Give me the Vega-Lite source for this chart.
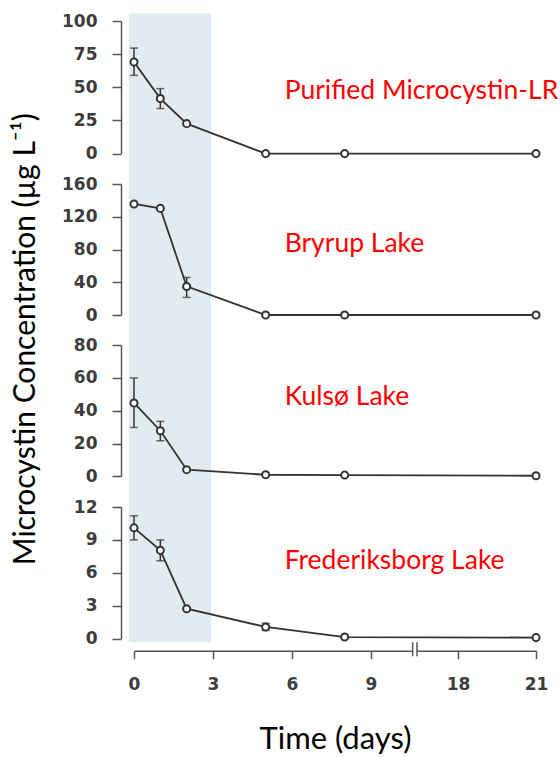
{
  "$schema": "https://vega.github.io/schema/vega-lite/v6.json",
  "padding": {"left": 9, "top": 12, "right": 0, "bottom": 0},
  "autosize": {"type": "pad"},
  "bounds": "flush",
  "spacing": 30,
  "config": {
    "view": {"stroke": null},
    "axis": {
      "grid": false,
      "domainColor": "#555555",
      "tickColor": "#555555",
      "domainWidth": 1.5,
      "tickWidth": 1.5,
      "labelFont": "DejaVu Sans",
      "labelFontWeight": "bold",
      "labelFontSize": 17,
      "labelColor": "#3c3c3c",
      "labelFlush": false,
      "labelOverlap": false,
      "titleFont": "Lato",
      "titleFontWeight": "normal",
      "titleFontSize": 30,
      "titleColor": "#000000"
    }
  },
  "datasets": {
    "series": [
      {"panel": "Purified Microcystin-LR", "day": 0, "conc": 69.1, "lo": 59.0, "hi": 79.6},
      {"panel": "Purified Microcystin-LR", "day": 1, "conc": 41.5, "lo": 34.0, "hi": 49.0},
      {"panel": "Purified Microcystin-LR", "day": 2, "conc": 22.6, "lo": null, "hi": null},
      {"panel": "Purified Microcystin-LR", "day": 5, "conc": 0, "lo": null, "hi": null},
      {"panel": "Purified Microcystin-LR", "day": 8, "conc": 0, "lo": null, "hi": null},
      {"panel": "Purified Microcystin-LR", "day": 21, "conc": 0, "lo": null, "hi": null},
      {"panel": "Bryrup Lake", "day": 0, "conc": 135.6, "lo": null, "hi": null},
      {"panel": "Bryrup Lake", "day": 1, "conc": 130.2, "lo": null, "hi": null},
      {"panel": "Bryrup Lake", "day": 2, "conc": 34.9, "lo": 21.5, "hi": 45.9},
      {"panel": "Bryrup Lake", "day": 5, "conc": 0, "lo": null, "hi": null},
      {"panel": "Bryrup Lake", "day": 8, "conc": 0, "lo": null, "hi": null},
      {"panel": "Bryrup Lake", "day": 21, "conc": 0, "lo": null, "hi": null},
      {"panel": "Kulsø Lake", "day": 0, "conc": 44.7, "lo": 29.8, "hi": 59.9},
      {"panel": "Kulsø Lake", "day": 1, "conc": 27.8, "lo": 21.7, "hi": 33.5},
      {"panel": "Kulsø Lake", "day": 2, "conc": 4.1, "lo": null, "hi": null},
      {"panel": "Kulsø Lake", "day": 5, "conc": 1.0, "lo": null, "hi": null},
      {"panel": "Kulsø Lake", "day": 8, "conc": 0.8, "lo": null, "hi": null},
      {"panel": "Kulsø Lake", "day": 21, "conc": 0.4, "lo": null, "hi": null},
      {"panel": "Frederiksborg Lake", "day": 0, "conc": 10.1, "lo": 9.0, "hi": 11.2},
      {"panel": "Frederiksborg Lake", "day": 1, "conc": 8.05, "lo": 7.1, "hi": 9.0},
      {"panel": "Frederiksborg Lake", "day": 2, "conc": 2.73, "lo": null, "hi": null},
      {"panel": "Frederiksborg Lake", "day": 5, "conc": 1.07, "lo": 0.75, "hi": 1.4},
      {"panel": "Frederiksborg Lake", "day": 8, "conc": 0.15, "lo": null, "hi": null},
      {"panel": "Frederiksborg Lake", "day": 21, "conc": 0.1, "lo": null, "hi": null}
    ]
  },
  "vconcat": [
    {
      "width": 402, "height": 132.6,
      "layer": [
        {
          "data": {"values": [{}]},
          "mark": {"type": "rect", "color": "#e2ebef"},
          "encoding": {
            "x": {"datum": -0.2, "type": "quantitative", "scale": {"domain": [0, 9, 18, 21], "range": [0, 237, 324, 402], "nice": false, "zero": false}, "axis": null},
            "x2": {"datum": 2.93},
            "y": {"datum": 105.6, "type": "quantitative", "scale": {"domain": [0, 100], "nice": false, "zero": false}, "axis": {"values": [0, 25, 50, 75, 100], "title": null, "offset": 13, "tickSize": 9, "labelPadding": 15}},
            "y2": {"datum": -12.1}
          }
        },
        {
          "data": {"name": "series"},
          "transform": [{"filter": "datum.panel === 'Purified Microcystin-LR'"}],
          "mark": {"type": "line", "color": "#333333", "strokeWidth": 1.8},
          "encoding": {
            "x": {"field": "day", "type": "quantitative", "scale": {"domain": [0, 9, 18, 21], "range": [0, 237, 324, 402], "nice": false, "zero": false}, "axis": null},
            "y": {"field": "conc", "type": "quantitative", "scale": {"domain": [0, 100], "nice": false, "zero": false}, "axis": {"values": [0, 25, 50, 75, 100], "title": null, "offset": 13, "tickSize": 9, "labelPadding": 15}}
          }
        },
        {
          "data": {"name": "series"},
          "transform": [{"filter": "datum.panel === 'Purified Microcystin-LR' && datum.lo != null"}],
          "layer": [
            {"mark": {"type": "rule", "color": "#333333", "strokeWidth": 1.5},
             "encoding": {"y2": {"field": "hi"}}},
            {"mark": {"type": "tick", "orient": "horizontal", "color": "#333333", "size": 8, "thickness": 1.5}},
            {"mark": {"type": "tick", "orient": "horizontal", "color": "#333333", "size": 8, "thickness": 1.5},
             "encoding": {"y": {"field": "hi", "type": "quantitative", "scale": {"domain": [0, 100], "nice": false, "zero": false}, "axis": {"values": [0, 25, 50, 75, 100], "title": null, "offset": 13, "tickSize": 9, "labelPadding": 15}}}}
          ],
          "encoding": {
            "x": {"field": "day", "type": "quantitative", "scale": {"domain": [0, 9, 18, 21], "range": [0, 237, 324, 402], "nice": false, "zero": false}, "axis": null},
            "y": {"field": "lo", "type": "quantitative", "scale": {"domain": [0, 100], "nice": false, "zero": false}, "axis": {"values": [0, 25, 50, 75, 100], "title": null, "offset": 13, "tickSize": 9, "labelPadding": 15}}
          }
        },
        {
          "data": {"name": "series"},
          "transform": [{"filter": "datum.panel === 'Purified Microcystin-LR'"}],
          "mark": {"type": "circle", "fill": "#ffffff", "stroke": "#333333", "strokeWidth": 2, "size": 50, "opacity": 1},
          "encoding": {
            "x": {"field": "day", "type": "quantitative", "scale": {"domain": [0, 9, 18, 21], "range": [0, 237, 324, 402], "nice": false, "zero": false}, "axis": null},
            "y": {"field": "conc", "type": "quantitative", "scale": {"domain": [0, 100], "nice": false, "zero": false}, "axis": {"values": [0, 25, 50, 75, 100], "title": null, "offset": 13, "tickSize": 9, "labelPadding": 15}}
          }
        },
        {
          "data": {"values": [{"panel": "Purified Microcystin-LR"}]},
          "mark": {"type": "text", "align": "left", "baseline": "middle", "font": "Lato", "fontSize": 26.5, "color": "#ff0000"},
          "encoding": {
            "x": {"datum": 5.72, "type": "quantitative", "scale": {"domain": [0, 9, 18, 21], "range": [0, 237, 324, 402], "nice": false, "zero": false}, "axis": null},
            "y": {"datum": 47.3, "type": "quantitative", "scale": {"domain": [0, 100], "nice": false, "zero": false}, "axis": {"values": [0, 25, 50, 75, 100], "title": null, "offset": 13, "tickSize": 9, "labelPadding": 15}},
            "text": {"field": "panel"}
          }
        }
      ]
    },
    {
      "width": 402, "height": 131,
      "layer": [
        {
          "data": {"values": [{}]},
          "mark": {"type": "rect", "color": "#e2ebef"},
          "encoding": {
            "x": {"datum": -0.2, "type": "quantitative", "scale": {"domain": [0, 9, 18, 21], "range": [0, 237, 324, 402], "nice": false, "zero": false}, "axis": null},
            "x2": {"datum": 2.93},
            "y": {"datum": 179.5, "type": "quantitative", "scale": {"domain": [0, 160], "nice": false, "zero": false}, "axis": {"values": [0, 40, 80, 120, 160], "title": null, "offset": 13, "tickSize": 9, "labelPadding": 15}},
            "y2": {"datum": -19.5}
          }
        },
        {
          "data": {"name": "series"},
          "transform": [{"filter": "datum.panel === 'Bryrup Lake'"}],
          "mark": {"type": "line", "color": "#333333", "strokeWidth": 1.8},
          "encoding": {
            "x": {"field": "day", "type": "quantitative", "scale": {"domain": [0, 9, 18, 21], "range": [0, 237, 324, 402], "nice": false, "zero": false}, "axis": null},
            "y": {"field": "conc", "type": "quantitative", "scale": {"domain": [0, 160], "nice": false, "zero": false}, "axis": {"values": [0, 40, 80, 120, 160], "title": null, "offset": 13, "tickSize": 9, "labelPadding": 15}}
          }
        },
        {
          "data": {"name": "series"},
          "transform": [{"filter": "datum.panel === 'Bryrup Lake' && datum.lo != null"}],
          "layer": [
            {"mark": {"type": "rule", "color": "#333333", "strokeWidth": 1.5},
             "encoding": {"y2": {"field": "hi"}}},
            {"mark": {"type": "tick", "orient": "horizontal", "color": "#333333", "size": 8, "thickness": 1.5}},
            {"mark": {"type": "tick", "orient": "horizontal", "color": "#333333", "size": 8, "thickness": 1.5},
             "encoding": {"y": {"field": "hi", "type": "quantitative", "scale": {"domain": [0, 160], "nice": false, "zero": false}, "axis": {"values": [0, 40, 80, 120, 160], "title": null, "offset": 13, "tickSize": 9, "labelPadding": 15}}}}
          ],
          "encoding": {
            "x": {"field": "day", "type": "quantitative", "scale": {"domain": [0, 9, 18, 21], "range": [0, 237, 324, 402], "nice": false, "zero": false}, "axis": null},
            "y": {"field": "lo", "type": "quantitative", "scale": {"domain": [0, 160], "nice": false, "zero": false}, "axis": {"values": [0, 40, 80, 120, 160], "title": null, "offset": 13, "tickSize": 9, "labelPadding": 15}}
          }
        },
        {
          "data": {"name": "series"},
          "transform": [{"filter": "datum.panel === 'Bryrup Lake'"}],
          "mark": {"type": "circle", "fill": "#ffffff", "stroke": "#333333", "strokeWidth": 2, "size": 50, "opacity": 1},
          "encoding": {
            "x": {"field": "day", "type": "quantitative", "scale": {"domain": [0, 9, 18, 21], "range": [0, 237, 324, 402], "nice": false, "zero": false}, "axis": null},
            "y": {"field": "conc", "type": "quantitative", "scale": {"domain": [0, 160], "nice": false, "zero": false}, "axis": {"values": [0, 40, 80, 120, 160], "title": null, "offset": 13, "tickSize": 9, "labelPadding": 15}}
          }
        },
        {
          "data": {"values": [{"panel": "Bryrup Lake"}]},
          "mark": {"type": "text", "align": "left", "baseline": "middle", "font": "Lato", "fontSize": 26.5, "color": "#ff0000"},
          "encoding": {
            "x": {"datum": 5.72, "type": "quantitative", "scale": {"domain": [0, 9, 18, 21], "range": [0, 237, 324, 402], "nice": false, "zero": false}, "axis": null},
            "y": {"datum": 87.1, "type": "quantitative", "scale": {"domain": [0, 160], "nice": false, "zero": false}, "axis": {"values": [0, 40, 80, 120, 160], "title": null, "offset": 13, "tickSize": 9, "labelPadding": 15}},
            "text": {"field": "panel"}
          }
        }
      ]
    },
    {
      "width": 402, "height": 131.4,
      "layer": [
        {
          "data": {"values": [{}]},
          "mark": {"type": "rect", "color": "#e2ebef"},
          "encoding": {
            "x": {"datum": -0.2, "type": "quantitative", "scale": {"domain": [0, 9, 18, 21], "range": [0, 237, 324, 402], "nice": false, "zero": false}, "axis": null},
            "x2": {"datum": 2.93},
            "y": {"datum": 89.7, "type": "quantitative", "scale": {"domain": [0, 80], "nice": false, "zero": false}, "axis": {"values": [0, 20, 40, 60, 80], "title": "Microcystin Concentration (µg L⁻¹)", "offset": 13, "tickSize": 9, "labelPadding": 15, "titleX": -96, "titleY": -6.3, "titleAngle": 270, "titleAlign": "center", "titleBaseline": "middle"}},
            "y2": {"datum": -9.7}
          }
        },
        {
          "data": {"name": "series"},
          "transform": [{"filter": "datum.panel === 'Kulsø Lake'"}],
          "mark": {"type": "line", "color": "#333333", "strokeWidth": 1.8},
          "encoding": {
            "x": {"field": "day", "type": "quantitative", "scale": {"domain": [0, 9, 18, 21], "range": [0, 237, 324, 402], "nice": false, "zero": false}, "axis": null},
            "y": {"field": "conc", "type": "quantitative", "scale": {"domain": [0, 80], "nice": false, "zero": false}, "axis": {"values": [0, 20, 40, 60, 80], "title": "Microcystin Concentration (µg L⁻¹)", "offset": 13, "tickSize": 9, "labelPadding": 15, "titleX": -96, "titleY": -6.3, "titleAngle": 270, "titleAlign": "center", "titleBaseline": "middle"}}
          }
        },
        {
          "data": {"name": "series"},
          "transform": [{"filter": "datum.panel === 'Kulsø Lake' && datum.lo != null"}],
          "layer": [
            {"mark": {"type": "rule", "color": "#333333", "strokeWidth": 1.5},
             "encoding": {"y2": {"field": "hi"}}},
            {"mark": {"type": "tick", "orient": "horizontal", "color": "#333333", "size": 8, "thickness": 1.5}},
            {"mark": {"type": "tick", "orient": "horizontal", "color": "#333333", "size": 8, "thickness": 1.5},
             "encoding": {"y": {"field": "hi", "type": "quantitative", "scale": {"domain": [0, 80], "nice": false, "zero": false}, "axis": {"values": [0, 20, 40, 60, 80], "title": "Microcystin Concentration (µg L⁻¹)", "offset": 13, "tickSize": 9, "labelPadding": 15, "titleX": -96, "titleY": -6.3, "titleAngle": 270, "titleAlign": "center", "titleBaseline": "middle"}}}}
          ],
          "encoding": {
            "x": {"field": "day", "type": "quantitative", "scale": {"domain": [0, 9, 18, 21], "range": [0, 237, 324, 402], "nice": false, "zero": false}, "axis": null},
            "y": {"field": "lo", "type": "quantitative", "scale": {"domain": [0, 80], "nice": false, "zero": false}, "axis": {"values": [0, 20, 40, 60, 80], "title": "Microcystin Concentration (µg L⁻¹)", "offset": 13, "tickSize": 9, "labelPadding": 15, "titleX": -96, "titleY": -6.3, "titleAngle": 270, "titleAlign": "center", "titleBaseline": "middle"}}
          }
        },
        {
          "data": {"name": "series"},
          "transform": [{"filter": "datum.panel === 'Kulsø Lake'"}],
          "mark": {"type": "circle", "fill": "#ffffff", "stroke": "#333333", "strokeWidth": 2, "size": 50, "opacity": 1},
          "encoding": {
            "x": {"field": "day", "type": "quantitative", "scale": {"domain": [0, 9, 18, 21], "range": [0, 237, 324, 402], "nice": false, "zero": false}, "axis": null},
            "y": {"field": "conc", "type": "quantitative", "scale": {"domain": [0, 80], "nice": false, "zero": false}, "axis": {"values": [0, 20, 40, 60, 80], "title": "Microcystin Concentration (µg L⁻¹)", "offset": 13, "tickSize": 9, "labelPadding": 15, "titleX": -96, "titleY": -6.3, "titleAngle": 270, "titleAlign": "center", "titleBaseline": "middle"}}
          }
        },
        {
          "data": {"values": [{"panel": "Kulsø Lake"}]},
          "mark": {"type": "text", "align": "left", "baseline": "middle", "font": "Lato", "fontSize": 26.5, "color": "#ff0000"},
          "encoding": {
            "x": {"datum": 5.72, "type": "quantitative", "scale": {"domain": [0, 9, 18, 21], "range": [0, 237, 324, 402], "nice": false, "zero": false}, "axis": null},
            "y": {"datum": 48.1, "type": "quantitative", "scale": {"domain": [0, 80], "nice": false, "zero": false}, "axis": {"values": [0, 20, 40, 60, 80], "title": "Microcystin Concentration (µg L⁻¹)", "offset": 13, "tickSize": 9, "labelPadding": 15, "titleX": -96, "titleY": -6.3, "titleAngle": 270, "titleAlign": "center", "titleBaseline": "middle"}},
            "text": {"field": "panel"}
          }
        }
      ]
    },
    {
      "width": 402, "height": 131.7,
      "layer": [
        {
          "data": {"values": [{}]},
          "mark": {"type": "rect", "color": "#e2ebef"},
          "encoding": {
            "x": {"datum": -0.2, "type": "quantitative", "scale": {"domain": [0, 9, 18, 21], "range": [0, 237, 324, 402], "nice": false, "zero": false}, "axis": {"values": [0, 3, 6, 9, 18, 21], "title": "Time (days)", "offset": 12, "tickSize": 8, "labelPadding": 18, "titlePadding": 32, "titleFontSize": 31}},
            "x2": {"datum": 2.93},
            "y": {"datum": 13.46, "type": "quantitative", "scale": {"domain": [0, 12], "nice": false, "zero": false}, "axis": {"values": [0, 3, 6, 9, 12], "title": null, "offset": 13, "tickSize": 9, "labelPadding": 15}},
            "y2": {"datum": -0.33}
          }
        },
        {
          "data": {"name": "series"},
          "transform": [{"filter": "datum.panel === 'Frederiksborg Lake'"}],
          "mark": {"type": "line", "color": "#333333", "strokeWidth": 1.8},
          "encoding": {
            "x": {"field": "day", "type": "quantitative", "scale": {"domain": [0, 9, 18, 21], "range": [0, 237, 324, 402], "nice": false, "zero": false}, "axis": {"values": [0, 3, 6, 9, 18, 21], "title": "Time (days)", "offset": 12, "tickSize": 8, "labelPadding": 18, "titlePadding": 32, "titleFontSize": 31}},
            "y": {"field": "conc", "type": "quantitative", "scale": {"domain": [0, 12], "nice": false, "zero": false}, "axis": {"values": [0, 3, 6, 9, 12], "title": null, "offset": 13, "tickSize": 9, "labelPadding": 15}}
          }
        },
        {
          "data": {"name": "series"},
          "transform": [{"filter": "datum.panel === 'Frederiksborg Lake' && datum.lo != null"}],
          "layer": [
            {"mark": {"type": "rule", "color": "#333333", "strokeWidth": 1.5},
             "encoding": {"y2": {"field": "hi"}}},
            {"mark": {"type": "tick", "orient": "horizontal", "color": "#333333", "size": 8, "thickness": 1.5}},
            {"mark": {"type": "tick", "orient": "horizontal", "color": "#333333", "size": 8, "thickness": 1.5},
             "encoding": {"y": {"field": "hi", "type": "quantitative", "scale": {"domain": [0, 12], "nice": false, "zero": false}, "axis": {"values": [0, 3, 6, 9, 12], "title": null, "offset": 13, "tickSize": 9, "labelPadding": 15}}}}
          ],
          "encoding": {
            "x": {"field": "day", "type": "quantitative", "scale": {"domain": [0, 9, 18, 21], "range": [0, 237, 324, 402], "nice": false, "zero": false}, "axis": {"values": [0, 3, 6, 9, 18, 21], "title": "Time (days)", "offset": 12, "tickSize": 8, "labelPadding": 18, "titlePadding": 32, "titleFontSize": 31}},
            "y": {"field": "lo", "type": "quantitative", "scale": {"domain": [0, 12], "nice": false, "zero": false}, "axis": {"values": [0, 3, 6, 9, 12], "title": null, "offset": 13, "tickSize": 9, "labelPadding": 15}}
          }
        },
        {
          "data": {"name": "series"},
          "transform": [{"filter": "datum.panel === 'Frederiksborg Lake'"}],
          "mark": {"type": "circle", "fill": "#ffffff", "stroke": "#333333", "strokeWidth": 2, "size": 50, "opacity": 1},
          "encoding": {
            "x": {"field": "day", "type": "quantitative", "scale": {"domain": [0, 9, 18, 21], "range": [0, 237, 324, 402], "nice": false, "zero": false}, "axis": {"values": [0, 3, 6, 9, 18, 21], "title": "Time (days)", "offset": 12, "tickSize": 8, "labelPadding": 18, "titlePadding": 32, "titleFontSize": 31}},
            "y": {"field": "conc", "type": "quantitative", "scale": {"domain": [0, 12], "nice": false, "zero": false}, "axis": {"values": [0, 3, 6, 9, 12], "title": null, "offset": 13, "tickSize": 9, "labelPadding": 15}}
          }
        },
        {
          "data": {"values": [{"panel": "Frederiksborg Lake"}]},
          "mark": {"type": "text", "align": "left", "baseline": "middle", "font": "Lato", "fontSize": 26.5, "color": "#ff0000"},
          "encoding": {
            "x": {"datum": 5.72, "type": "quantitative", "scale": {"domain": [0, 9, 18, 21], "range": [0, 237, 324, 402], "nice": false, "zero": false}, "axis": {"values": [0, 3, 6, 9, 18, 21], "title": "Time (days)", "offset": 12, "tickSize": 8, "labelPadding": 18, "titlePadding": 32, "titleFontSize": 31}},
            "y": {"datum": 7.05, "type": "quantitative", "scale": {"domain": [0, 12], "nice": false, "zero": false}, "axis": {"values": [0, 3, 6, 9, 12], "title": null, "offset": 13, "tickSize": 9, "labelPadding": 15}},
            "text": {"field": "panel"}
          }
        },
        {
          "data": {"values": [{}]},
          "mark": {"type": "rect", "color": "#ffffff"},
          "encoding": {
            "x": {"datum": 13.31, "type": "quantitative", "scale": {"domain": [0, 9, 18, 21], "range": [0, 237, 324, 402], "nice": false, "zero": false}, "axis": {"values": [0, 3, 6, 9, 18, 21], "title": "Time (days)", "offset": 12, "tickSize": 8, "labelPadding": 18, "titlePadding": 32, "titleFontSize": 31}},
            "x2": {"datum": 13.76},
            "y": {"datum": -0.85, "type": "quantitative", "scale": {"domain": [0, 12], "nice": false, "zero": false}, "axis": {"values": [0, 3, 6, 9, 12], "title": null, "offset": 13, "tickSize": 9, "labelPadding": 15}},
            "y2": {"datum": -1.3}
          }
        },
        {
          "data": {"values": [{"cut": 13.31}, {"cut": 13.76}]},
          "mark": {"type": "rule", "color": "#555555", "strokeWidth": 1.5},
          "encoding": {
            "x": {"field": "cut", "type": "quantitative", "scale": {"domain": [0, 9, 18, 21], "range": [0, 237, 324, 402], "nice": false, "zero": false}, "axis": {"values": [0, 3, 6, 9, 18, 21], "title": "Time (days)", "offset": 12, "tickSize": 8, "labelPadding": 18, "titlePadding": 32, "titleFontSize": 31}},
            "y": {"datum": -0.33, "type": "quantitative", "scale": {"domain": [0, 12], "nice": false, "zero": false}, "axis": {"values": [0, 3, 6, 9, 12], "title": null, "offset": 13, "tickSize": 9, "labelPadding": 15}},
            "y2": {"datum": -1.6}
          }
        }
      ]
    }
  ]
}
